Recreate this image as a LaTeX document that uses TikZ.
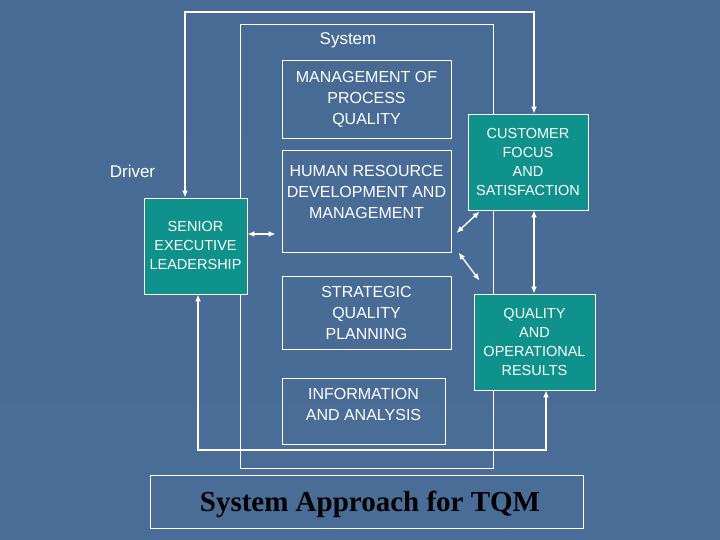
\documentclass[tikz,border=0pt]{standalone}
\usepackage{fontspec}
\setmainfont{Liberation Sans}
\newfontfamily\titlefont{Liberation Serif}
\usetikzlibrary{arrows.meta,calc}
\definecolor{bgmid}{HTML}{5579A4}
\definecolor{bgtop}{HTML}{486B95}
\definecolor{bgbot}{HTML}{4A6D98}
\definecolor{tqmteal}{HTML}{0F918C}
\begin{document}
\begin{tikzpicture}[x=1pt,y=-1pt,
  wbox/.style={draw=white, line width=0.9pt, text=white, align=center, inner sep=0pt, font=\fontsize{16}{21}\selectfont},
  tbox/.style={wbox, fill=tqmteal, font=\fontsize{14.5}{19}\selectfont},
  conn/.style={draw=white, line width=1.4pt, {Latex[length=7pt,width=6pt]}-{Latex[length=7pt,width=6pt]}},
  frame/.style={draw=white, line width=0.9pt, inner sep=0pt},
  plain/.style={text=white, font=\fontsize{17}{21}\selectfont, inner sep=0pt}]
\shade[top color=bgtop, middle color=bgmid, bottom color=bgbot] (0,0) rectangle (720,540);
\useasboundingbox (0,0) rectangle (720,540);
% system frame
\node[frame, minimum width=253pt, minimum height=444pt] (sysframe) at (366.5,246) {};
\node[plain] (systxt) at (348,40) {System};
\node[plain] (driver) at (132.5,171) {Driver};
% boxes
\node[wbox, minimum width=169pt, minimum height=78pt] (mgmt) at (366.5,99) {MANAGEMENT OF\\PROCESS\\QUALITY};
\node[wbox, minimum width=169pt, minimum height=102pt] (hr) at (366.5,201) {HUMAN RESOURCE\\DEVELOPMENT AND\\MANAGEMENT\\[-3pt]\mbox{}};
\node[wbox, minimum width=169pt, minimum height=73pt] (strat) at (366.5,312.5) {STRATEGIC\\QUALITY\\PLANNING};
\node[wbox, minimum width=163pt, minimum height=66pt] (info) at (363.5,411) {INFORMATION\\AND ANALYSIS\\[-7pt]\mbox{}};
\node[tbox, minimum width=120pt, minimum height=96pt] (cust) at (528,162) {CUSTOMER\\FOCUS\\AND\\SATISFACTION};
\node[tbox, minimum width=121pt, minimum height=96pt] (qual) at (534.5,342) {QUALITY\\AND\\OPERATIONAL\\RESULTS};
\node[tbox, minimum width=103pt, minimum height=96pt] (senior) at (195.5,246) {SENIOR\\EXECUTIVE\\LEADERSHIP};
\node[draw=white, line width=0.9pt, minimum width=433pt, minimum height=53pt, inner sep=0pt] (title) at (366.5,501.5) {};
\node[anchor=base, inner sep=0pt, font=\titlefont\bfseries\fontsize{29}{32}\selectfont, text=black] (titletxt) at (370,511) {System Approach for TQM};
% connectors
\coordinate (tl) at (185,12);
\coordinate (tr) at (534,12);
\coordinate (bl) at (198,450);
\coordinate (br) at (546,450);
\draw[conn] (senior.north -| tl) -- (tl) -- (tr) -- (cust.north -| tr);
\draw[conn] (senior.south -| bl) -- (bl) -- (br) -- (qual.south -| br);
\draw[conn] ($(senior.east)+(0,-12)$) -- ($(hr.west)+(-6,33)$);
\draw[conn] ($(hr.east)+(5,32)$) -- ($(cust.south west)+(12,1)$);
\draw[conn] ($(hr.south east)+(7,0)$) -- ($(qual.north west)+(6,-13)$);
\draw[conn] (cust.south -| tr) -- (qual.north -| tr);
\end{tikzpicture}
\end{document}
